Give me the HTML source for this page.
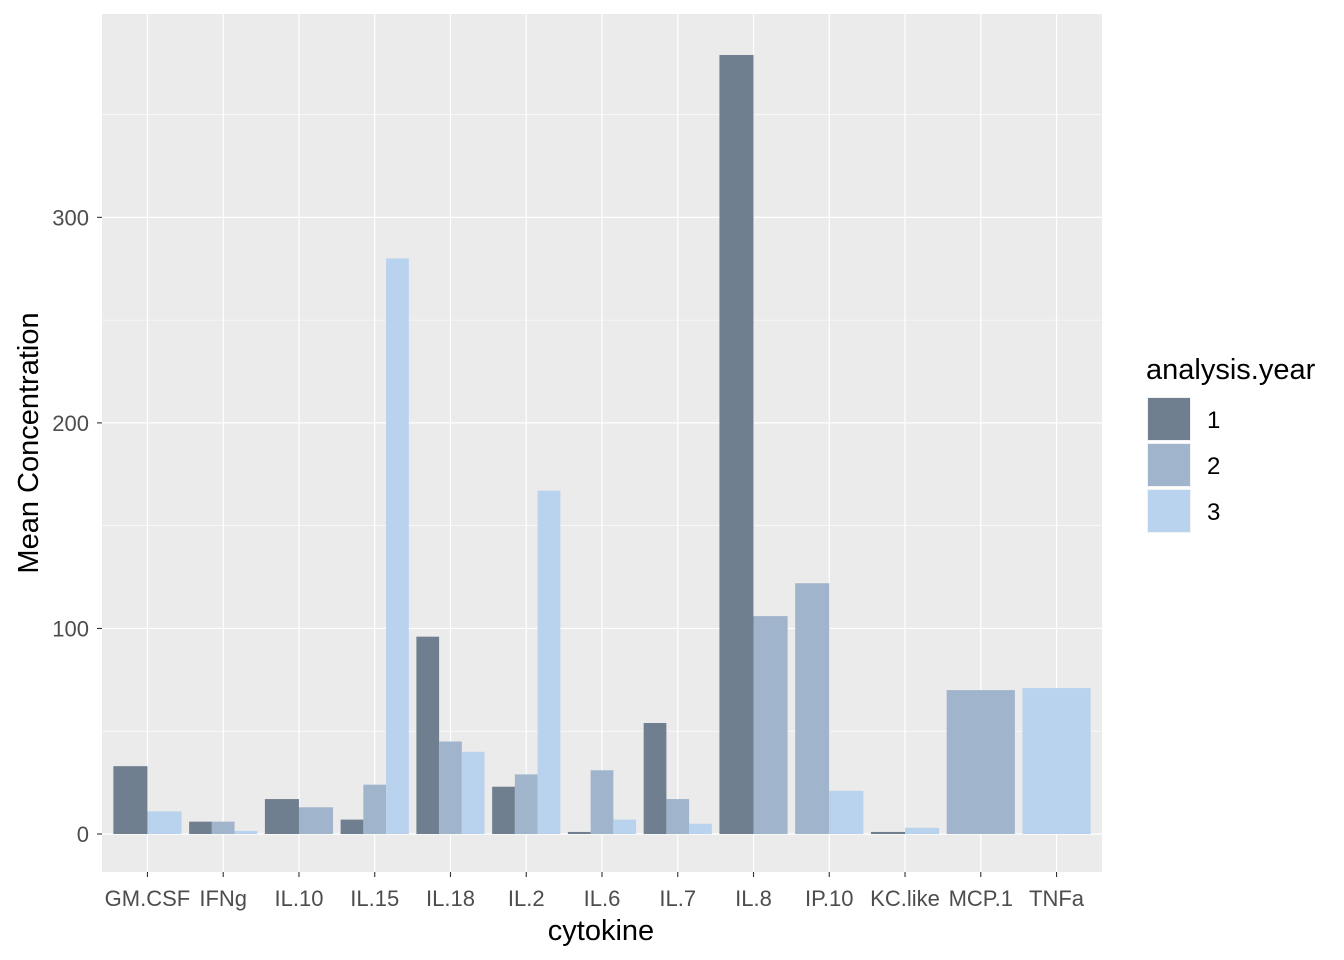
<!DOCTYPE html>
<html><head><meta charset="utf-8"><style>
body{margin:0;background:#fff;}
svg{display:block;font-family:"Liberation Sans",Arial,sans-serif;}
</style></head><body>
<svg id="c" width="1344" height="960"></svg>
<script>
const categories=["GM.CSF","IFNg","IL.10","IL.15","IL.18","IL.2","IL.6","IL.7","IL.8","IP.10","KC.like","MCP.1","TNFa"];
const year1=[33,6,17,7,96,23,1,54,379,null,1,null,null];
const year2=[null,6,13,24,45,29,31,17,106,122,null,70,null];
const year3=[11,1.5,null,280,40,167,7,5,null,21,3,null,71];
const yTicks=[0,100,200,300];
const years=["1","2","3"];
const colors=["#6f7f8f","#a0b4cb","#b9d2ee"];
const series=[year1,year2,year3];
const svg=document.getElementById('c');
const NS="http://www.w3.org/2000/svg";
function mk(t,a,p){const e=document.createElementNS(NS,t);for(const k in a)e.setAttribute(k,a[k]);(p||svg).appendChild(e);return e;}
const px0=102,px1=1102,py0=14,py1=872;
const y=v=>834-v*2.0555;
const step=(px1-px0)/(categories.length-1+1.2);
const x=i=>px0+step*(i+0.6);
let bg=mk('rect',{x:px0,y:py0,width:px1-px0,height:py1-py0,fill:'#ebebeb'});

for(let v=50;v<=350;v+=100){mk('line',{x1:px0,x2:px1,y1:y(v),y2:y(v),stroke:'#fff','stroke-width':0.6});}
yTicks.forEach(v=>{
 mk('line',{x1:px0,x2:px1,y1:y(v),y2:y(v),stroke:'#fff','stroke-width':1.2});
 mk('line',{x1:97,x2:102,y1:y(v),y2:y(v),stroke:'#333','stroke-width':1.1});
 const t=mk('text',{x:89,y:y(v)+8,'text-anchor':'end','font-size':'22px',fill:'#4d4d4d'});t.textContent=v;
 
});
categories.forEach((c,i)=>{
 mk('line',{x1:x(i),x2:x(i),y1:py0,y2:py1,stroke:'#fff','stroke-width':1.2});
 mk('line',{x1:x(i),x2:x(i),y1:872,y2:877,stroke:'#333','stroke-width':1.1});
 const t=mk('text',{x:x(i),y:906,'text-anchor':'middle','font-size':'22px',fill:'#4d4d4d'});t.textContent=c;
 
});
const gw=step*0.9;
categories.forEach((c,i)=>{
 const present=[0,1,2].filter(s=>series[s][i]!=null);
 const bw=gw/present.length;
 present.forEach((s,k)=>{
  const v=series[s][i];
  const r=mk('rect',{x:x(i)-gw/2+k*bw,y:y(v),width:bw,height:y(0)-y(v),fill:colors[s]});
  
  
 });
});
let t=mk('text',{x:601,y:940,'text-anchor':'middle','font-size':'29px',fill:'#000'});t.textContent='cytokine';

t=mk('text',{x:0,y:0,'text-anchor':'middle','font-size':'29px',fill:'#000',transform:'translate(38,443) rotate(-90)'});t.textContent='Mean Concentration';

t=mk('text',{x:1146,y:379,'font-size':'29px',fill:'#000'});t.textContent='analysis.year';

years.forEach((yr,s)=>{
 const g=mk('g',{});
 
 mk('rect',{x:1147,y:397+s*46,width:44,height:44,fill:'#f2f2f2'},g);
 mk('rect',{x:1148,y:398+s*46,width:42,height:42,fill:colors[s]},g);
 const l=mk('text',{x:1207,y:428+s*46,'font-size':'24px',fill:'#000'},g);l.textContent=yr;
});
</script>
</body></html>
